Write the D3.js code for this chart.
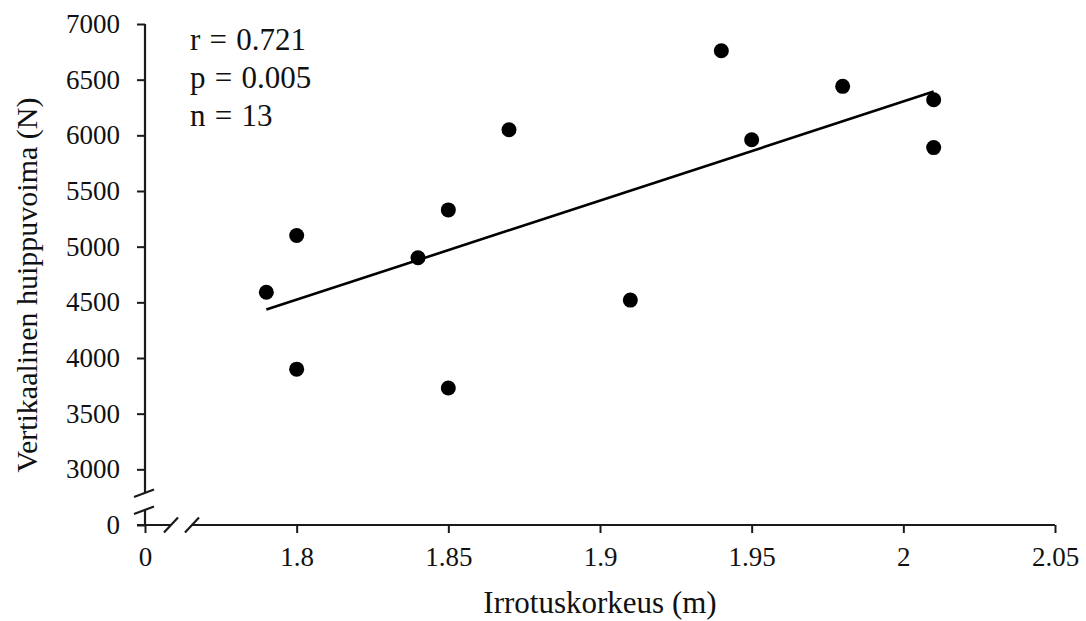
<!DOCTYPE html>
<html>
<head>
<meta charset="utf-8">
<script src="https://cdn.jsdelivr.net/npm/d3@7"></script>
<style>
  body { margin: 0; background: #fff; }
  svg { display: block; }
  svg text { font-family: "Liberation Serif", "Times New Roman", Times, "DejaVu Serif", serif !important; fill: #111; }
</style>
</head>
<body>
<svg id="chart"></svg>
<script>
// irrotuskorkeus (m) vs vertikaalinen huippuvoima (N)
const height_m = [1.79, 1.8, 1.8, 1.84, 1.85, 1.85, 1.87, 1.91, 1.94, 1.95, 1.98, 2.01, 2.01]
const force_N  = [4590, 5100, 3900, 4900, 5330, 3730, 6050, 4520, 6760, 5960, 6440, 6320, 5890]

const xTicks = [0, 1.8, 1.85, 1.9, 1.95, 2, 2.05]
const yTicks = [0, 3000, 3500, 4000, 4500, 5000, 5500, 6000, 6500, 7000]
const statLines = ["r = 0.721", "p = 0.005", "n = 13"]

const W = 1086, H = 621

const svg = d3.select("#chart").attr("width", W).attr("height", H)

// broken axes: the 0 tick sits one step before the first real tick
const xZero = 1.75, yZero = 2500
const x = d3.scaleLinear().domain([xZero, 2.05]).range([145, 1055])
const y = d3.scaleLinear().domain([yZero, 7000]).range([525, 24])
const xPos = v => x(v === 0 ? xZero : v)
const yPos = v => y(v === 0 ? yZero : v)

const ink = "#1a1a1a"

// x axis
const gx = svg.append("g").attr("transform", `translate(0,${yPos(0)})`)
  .call(d3.axisBottom(x)
    .tickValues(xTicks.map(v => v === 0 ? xZero : v))
    .tickFormat(d => d === xZero ? 0 : d)
    .tickSize(8).tickPadding(14))
gx.select(".domain").remove()
gx.selectAll(".tick line").attr("stroke", ink).attr("stroke-width", 2)
gx.selectAll(".tick text").attr("font-size", 27)

// y axis
const gy = svg.append("g").attr("transform", `translate(${xPos(0)},0)`)
  .call(d3.axisLeft(y)
    .tickValues(yTicks.map(v => v === 0 ? yZero : v))
    .tickFormat(d => d === yZero ? 0 : d)
    .tickSize(8).tickPadding(17))
gy.select(".domain").remove()
gy.selectAll(".tick line").attr("stroke", ink).attr("stroke-width", 2)
gy.selectAll(".tick text").attr("font-size", 27)

// axis lines with break marks
const x0 = xPos(0), y0 = yPos(0)
const xb = [x0 + 26, x0 + 47]   // x break slashes
const yb = [y0 - 32, y0 - 15]   // y break slashes
const axisLines = [
  [[x0 - 8, y0], [xb[0], y0]],
  [[xb[1], y0], [x(2.05), y0]],
  [[x0, y(7000)], [x0, yb[0]]],
  [[x0, yb[1]], [x0, y0]]
]
const slashes = [
  [[xb[0] - 7, y0 + 7.5], [xb[0] + 7, y0 - 7.5]],
  [[xb[1] - 7, y0 + 7.5], [xb[1] + 7, y0 - 7.5]],
  [[x0 - 11, yb[0] + 4], [x0 + 9, yb[0] - 3.5]],
  [[x0 - 11, yb[1] + 4], [x0 + 9, yb[1] - 3.5]]
]
svg.append("g").selectAll("line").data(axisLines.concat(slashes)).join("line")
  .attr("x1", d => d[0][0]).attr("y1", d => d[0][1])
  .attr("x2", d => d[1][0]).attr("y2", d => d[1][1])
  .attr("stroke", ink).attr("stroke-width", 2.2)

// linear trend line (least squares)
const mx = d3.mean(height_m), my = d3.mean(force_N)
const slope = d3.sum(height_m, (v, i) => (v - mx) * (force_N[i] - my)) / d3.sum(height_m, v => (v - mx) ** 2)
const fit = v => my + slope * (v - mx)
const ext = d3.extent(height_m)
svg.append("line")
  .attr("x1", x(ext[0])).attr("y1", y(fit(ext[0])))
  .attr("x2", x(ext[1])).attr("y2", y(fit(ext[1])))
  .attr("stroke", "#000").attr("stroke-width", 2.6)

// points
svg.append("g").selectAll("circle").data(height_m).join("circle")
  .attr("cx", d => x(d))
  .attr("cy", (d, i) => y(force_N[i]))
  .attr("r", 7.5)
  .attr("fill", "#000")

// stats
svg.append("g").selectAll("text").data(statLines).join("text")
  .attr("x", 190).attr("y", (d, i) => 50 + i * 38)
  .attr("font-size", 31).attr("word-spacing", 1.5)
  .text(d => d)

// titles
svg.append("text")
  .attr("x", 600).attr("y", 613)
  .attr("text-anchor", "middle").attr("font-size", 31)
  .text("Irrotuskorkeus (m)")

svg.append("text")
  .attr("transform", "translate(37,285) rotate(-90)")
  .attr("text-anchor", "middle").attr("font-size", 30)
  .text("Vertikaalinen huippuvoima (N)")
</script>
</body>
</html>
